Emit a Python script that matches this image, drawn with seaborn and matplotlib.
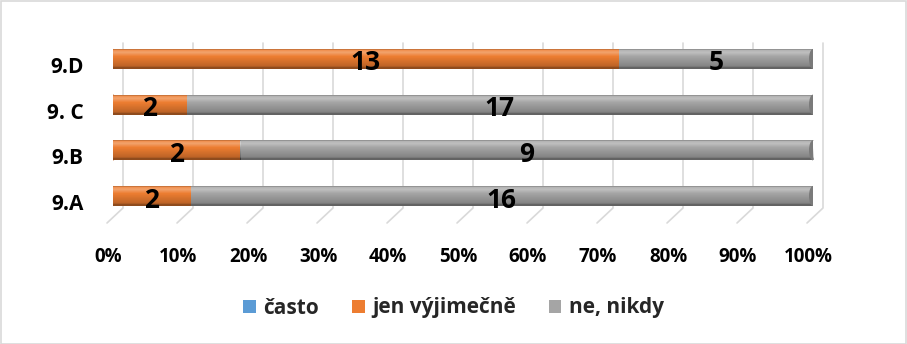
import numpy as np
import pandas as pd
import matplotlib
matplotlib.use("Agg")
import matplotlib.pyplot as plt
import matplotlib.transforms as mtransforms
from matplotlib.patches import Patch, Ellipse, Rectangle
from matplotlib.lines import Line2D
import seaborn as sns

# ---- data (top to bottom as displayed) ----
categories = ["9.D", "9. C", "9.B", "9.A"]
casto = [0, 0, 0, 0]
jen_vyjimecne = [13, 2, 2, 2]
ne_nikdy = [5, 17, 9, 16]
series_names = ["často", "jen výjimečně", "ne, nikdy"]
colors = ["#5B9BD5", "#ED7D31", "#A5A5A5"]
tick_values = list(range(0, 101, 10))
tick_labels = [f"{v}%" for v in tick_values]

sns.set_theme(style="white")
plt.rcParams["font.family"] = ["Open Sans", "DejaVu Sans"]
plt.rcParams["font.weight"] = "bold"

counts = np.array([casto, jen_vyjimecne, ne_nikdy], dtype=float)
totals = counts.sum(axis=0)
pct = counts / totals * 100
cum = np.cumsum(pct, axis=0)

df = pd.DataFrame({"kat": categories})
for i, name in enumerate(series_names):
    df[name + "_cum"] = cum[i]

W, H = 907, 344
fig = plt.figure(figsize=(W / 100, H / 100), dpi=100)
ax_left, ax_right = 113, 813
ax_top, ax_bot = 43, 223
ax = fig.add_axes([ax_left / W, 1 - ax_bot / H, (ax_right - ax_left) / W, (ax_bot - ax_top) / H])

bar_h = 0.44
for i in reversed(range(len(series_names))):
    sns.barplot(data=df, x=series_names[i] + "_cum", y="kat", order=categories,
                color=colors[i], saturation=1, width=bar_h, orient="h", ax=ax,
                linewidth=0, zorder=2 + (2 - i))

px = 100 / (ax_right - ax_left)  # data units per pixel in x
ypx = 45.67                      # pixels per category
ylim_top = -(59 - ax_top) / ypx
ylim_bot = 3 + (ax_bot - 196) / ypx

# cylinder shading profile (top -> bottom)
def overlay(n=64):
    t = np.linspace(0, 1, n)
    rgba = np.zeros((n, 1, 4))
    for k, tt in enumerate(t):
        if tt < 0.07:
            rgba[k, 0] = [0, 0, 0, 0.30]
        elif tt < 0.40:
            a = 0.30 * max(0.0, 1 - abs(tt - 0.2) / 0.2)
            rgba[k, 0] = [1, 1, 1, a]
        elif tt < 0.90:
            rgba[k, 0] = [0, 0, 0, 0.22 * (tt - 0.40) / 0.50]
        else:
            rgba[k, 0] = [0, 0, 0, 0.40]
    return rgba
grad = overlay()

patches = [p for p in ax.patches]
for p in patches:
    w = p.get_width()
    if w <= 0:
        continue
    x0, y0, hh = p.get_x(), p.get_y(), p.get_height()
    im = ax.imshow(grad, extent=[x0, x0 + w, y0 + hh, y0], aspect="auto",
                   zorder=p.get_zorder() + 0.1, interpolation="bilinear")
    im.set_clip_path(p)
    if x0 == 0:
        ax.add_patch(Ellipse((0, y0 + hh / 2), 8 * px, hh, facecolor=p.get_facecolor(),
                             edgecolor="none", zorder=p.get_zorder() - 0.05))
for yi in range(len(categories)):
    ax.add_patch(Ellipse((100, yi), 8 * px, bar_h, facecolor="#7A7A7A",
                         edgecolor="none", zorder=10))

ax.set_xlim(0, 100)
ax.set_ylim(ylim_bot, ylim_top)

# 3D-style gridlines
y_bend = 3 + (208 - 196) / ypx
for v in tick_values:
    ax.add_line(Line2D([v + 10 * px, v + 10 * px, v - 6 * px],
                       [ylim_top, y_bend, ylim_bot], color="#D9D9D9", lw=1.2,
                       zorder=0.5, clip_on=False))

# data labels
off_lbl = mtransforms.ScaledTranslation(0, -4 / 100, fig.dpi_scale_trans)
for i in range(len(series_names)):
    for yi in range(len(categories)):
        if counts[i, yi] > 0:
            xc = cum[i, yi] - pct[i, yi] / 2
            ax.text(xc, yi, f"{int(counts[i, yi])}", ha="center", va="center",
                    fontsize=19, fontweight="bold", color="black", zorder=20,
                    transform=ax.transData + off_lbl)

for s in ax.spines.values():
    s.set_visible(False)
ax.set_xlabel("")
ax.set_ylabel("")
ax.set_xticks(tick_values)
ax.set_xticklabels(tick_labels, fontsize=13.5, fontweight="bold", color="black")
ax.tick_params(axis="x", length=0, pad=17)
for lab in ax.get_xticklabels():
    lab.set_transform(lab.get_transform() + mtransforms.ScaledTranslation(-5 / 100, 0, fig.dpi_scale_trans))
ax.set_yticks(range(len(categories)))
ax.set_yticklabels(categories, fontsize=15, fontweight="bold", color="black")
ax.tick_params(axis="y", length=0, pad=21)
for lab in ax.get_yticklabels():
    lab.set_transform(lab.get_transform() + mtransforms.ScaledTranslation(0, -6 / 100, fig.dpi_scale_trans))

handles = [Patch(facecolor=c, edgecolor="none") for c in colors]
fig.legend(handles, series_names, loc="center", bbox_to_anchor=(0.5, 1 - 308 / H),
           ncol=3, frameon=False, prop={"size": 15, "weight": "bold"},
           handlelength=0.6, handleheight=0.6, handletextpad=0.35, columnspacing=1.6)

fig.patches.append(Rectangle((0.5 / W, 0.5 / H), 1 - 1.5 / W, 1 - 1.5 / H, transform=fig.transFigure,
                             fill=False, edgecolor="#D9D9D9", lw=1.2))

fig.savefig("out.png", dpi=100, facecolor="white")
